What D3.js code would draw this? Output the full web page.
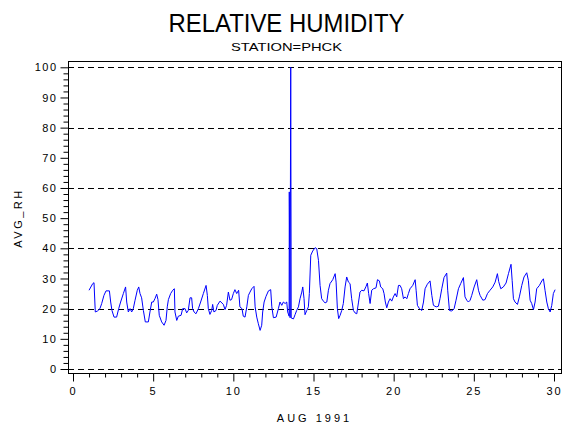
<!DOCTYPE html>
<html>
<head>
<meta charset="utf-8">
<script src="https://cdn.jsdelivr.net/npm/d3@7"></script>
<style>
  body { margin: 0; background: #fff; }
  text { font-family: "Liberation Sans", Arial, sans-serif; fill: #000; }
</style>
</head>
<body>
<div id="chart"></div>
<script>
////////////////////////////////////////////////////////////////////////
// Data: day of August 1991 and average RH

let days = [
  1.00, 1.23, 1.31, 1.39, 1.52, 1.68, 1.79, 1.93, 2.06, 2.27, 2.35, 2.43, 2.56, 2.72, 2.85, 2.97,
  3.14, 3.28, 3.35, 3.45, 3.56, 3.66, 3.76, 3.87, 4.01, 4.10, 4.18, 4.28, 4.39, 4.51, 4.70, 4.80,
  4.91, 5.01, 5.11, 5.22, 5.30, 5.38, 5.53, 5.68, 5.80, 5.88, 5.95, 6.09, 6.22, 6.32, 6.36, 6.47,
  6.57, 6.74, 6.84, 6.99, 7.09, 7.19, 7.30, 7.40, 7.46, 7.55, 7.67, 7.82, 7.96, 8.13, 8.30, 8.38,
  8.44, 8.54, 8.65, 8.71, 8.79, 8.92, 9.00, 9.17, 9.38, 9.48, 9.58, 9.69, 9.79, 9.89, 10.00, 10.10,
  10.21, 10.33, 10.41, 10.54, 10.62, 10.73, 10.84, 10.94, 11.04, 11.15, 11.29, 11.36, 11.46, 11.56,
  11.67, 11.77, 11.83, 11.92, 12.04, 12.19, 12.33, 12.40, 12.50, 12.67, 12.81, 12.91, 13.02, 13.12,
  13.23, 13.33, 13.39, 13.48, 13.49, 13.54, 13.58, 13.61, 13.75, 13.85, 13.95, 14.06, 14.16, 14.27,
  14.33, 14.41, 14.47, 14.58, 14.68, 14.74, 14.83, 14.95, 15.10, 15.20, 15.31, 15.41, 15.51, 15.62,
  15.72, 15.83, 15.93, 16.03, 16.20, 16.35, 16.41, 16.49, 16.57, 16.66, 16.76, 16.86, 16.97, 17.07,
  17.18, 17.28, 17.38, 17.49, 17.59, 17.70, 17.80, 17.90, 18.01, 18.15, 18.28, 18.36, 18.44, 18.53,
  18.63, 18.74, 18.90, 18.99, 19.11, 19.19, 19.32, 19.40, 19.48, 19.57, 19.67, 19.78, 19.88, 19.98,
  20.09, 20.19, 20.30, 20.40, 20.50, 20.61, 20.71, 20.82, 20.92, 21.02, 21.19, 21.34, 21.40, 21.48,
  21.61, 21.75, 21.86, 21.96, 22.10, 22.27, 22.38, 22.48, 22.65, 22.79, 22.89, 23.00, 23.14, 23.31,
  23.37, 23.48, 23.62, 23.77, 23.89, 24.04, 24.18, 24.35, 24.45, 24.56, 24.66, 24.77, 24.87, 25.02,
  25.18, 25.29, 25.39, 25.56, 25.70, 25.85, 26.01, 26.18, 26.33, 26.47, 26.55, 26.68, 26.84, 27.01,
  27.16, 27.32, 27.39, 27.47, 27.57, 27.72, 27.84, 27.99, 28.13, 28.30, 28.40, 28.51, 28.61, 28.72,
  28.82, 28.92, 29.09, 29.24, 29.34, 29.44, 29.55, 29.65, 29.76, 29.86, 29.96, 30.07
];

let avgRH = [
  26.1, 28.3, 28.6, 18.9, 19.2, 20.0, 21.7, 24.4, 25.9, 25.9, 22.2, 19.4, 17.2, 17.2, 20.0, 22.2,
  25.0, 27.2, 22.2, 18.9, 20.0, 18.9, 20.0, 22.8, 26.1, 27.2, 25.0, 23.6, 19.4, 15.6, 15.6, 18.9,
  22.2, 22.2, 23.3, 24.8, 23.0, 17.8, 15.6, 14.5, 16.1, 20.6, 23.0, 25.0, 26.1, 26.6, 18.9, 16.1,
  17.5, 17.8, 20.0, 20.0, 18.6, 19.4, 23.6, 23.6, 20.0, 18.9, 18.3, 20.0, 22.2, 25.0, 27.7, 24.4,
  20.0, 18.1, 19.4, 21.4, 18.9, 19.4, 21.1, 22.5, 21.4, 19.7, 21.1, 25.5, 22.8, 23.0, 25.0, 26.3,
  25.0, 26.1, 20.6, 20.0, 17.5, 17.2, 20.6, 24.4, 25.5, 26.6, 27.4, 20.6, 17.2, 15.0,
  12.8, 14.5, 18.9, 22.2, 24.1, 25.9, 26.3, 20.6, 17.0, 17.2, 20.0, 22.2, 21.1, 22.2,
  21.7, 22.2, 18.9, 17.5, 58.7, 17.0, 100.0, 16.9, 16.6, 18.0, 19.4, 20.6, 23.3, 25.5,
  27.2, 23.3, 18.0, 19.4, 20.6, 25.0, 37.7, 39.1, 40.2, 39.9, 36.0, 27.7, 23.3, 22.5,
  21.9, 22.2, 26.1, 28.3, 29.6, 31.6, 28.8, 20.0, 16.7, 17.8, 19.4, 21.7, 27.2, 30.5,
  28.8, 28.3, 23.3, 19.4, 18.6, 18.3, 21.9, 25.5, 26.1, 25.9, 27.4, 28.5, 25.0, 21.7,
  26.1, 26.6, 26.9, 29.6, 29.2, 27.2, 26.6, 25.0, 22.2, 20.3, 22.2, 23.3, 22.5, 23.9,
  25.0, 23.9, 27.7, 27.7, 26.6, 23.3, 23.9, 23.3, 25.0, 26.6, 27.7, 29.6, 26.1, 21.1,
  20.0, 19.4, 22.2, 26.6, 28.1, 29.2, 24.4, 21.1, 20.6, 20.8, 23.3, 26.6, 30.3, 31.8,
  26.1, 19.4, 19.2, 20.0, 22.8, 26.6, 28.3, 30.3, 23.9, 22.8, 22.2, 22.8, 24.4, 27.2,
  29.6, 26.1, 24.4, 22.8, 23.0, 25.0, 26.1, 27.2, 28.8, 31.6, 29.0, 26.6, 27.2, 28.5,
  31.6, 34.7, 29.4, 23.3, 22.2, 21.4, 23.9, 27.7, 30.5, 31.9, 29.4, 22.8, 21.7, 19.7,
  22.2, 26.6, 27.7, 29.2, 29.9, 26.1, 22.2, 20.0, 18.9, 21.1, 25.0, 26.3
];

// axis ticks
let xTicks = [0, 5, 10, 15, 20, 25, 30];
let yTicks = [0, 10, 20, 30, 40, 50, 60, 70, 80, 90, 100];
let gridValues = [0, 20, 40, 60, 80, 100];

let titleText = "RELATIVE HUMIDITY";
let subtitleText = "STATION=PHCK";
let xTitle = "AUG 1991";
let yTitle = "AVG_RH";

////////////////////////////////////////////////////////////////////////
// Layout

let width = 570, height = 430;
let frame = { left: 68, top: 61, right: 561, bottom: 373 };

let svg = d3.select("#chart")
  .append("svg")
  .attr("width", width)
  .attr("height", height);

let xScale = d3.scaleLinear().domain([0, 30]).range([73, 554]);
let yScale = d3.scaleLinear().domain([0, 100]).range([369, 67.3]);

// Titles
svg.append("text")
  .attr("x", 286.5).attr("y", 32)
  .attr("text-anchor", "middle")
  .attr("font-size", 26)
  .attr("textLength", 236)
  .attr("lengthAdjust", "spacingAndGlyphs")
  .text(titleText);

svg.append("text")
  .attr("x", 286.5).attr("y", 51)
  .attr("text-anchor", "middle")
  .attr("font-size", 11)
  .attr("textLength", 111)
  .attr("lengthAdjust", "spacingAndGlyphs")
  .text(subtitleText);

// Dashed reference lines
svg.append("g")
  .selectAll("line")
  .data(gridValues)
  .join("line")
  .attr("x1", frame.left)
  .attr("x2", frame.right)
  .attr("y1", d => Math.round(yScale(d)) + 0.5)
  .attr("y2", d => Math.round(yScale(d)) + 0.5)
  .attr("stroke", "#000")
  .attr("stroke-dasharray", "6,4");

// Frame
svg.append("rect")
  .attr("x", frame.left + 0.5)
  .attr("y", frame.top + 0.5)
  .attr("width", frame.right - frame.left)
  .attr("height", frame.bottom - frame.top)
  .attr("fill", "none")
  .attr("stroke", "#000");

// Y axis: major + minor ticks
let yAxis = svg.append("g")
  .attr("transform", `translate(${frame.left + 0.5},0)`)
  .call(d3.axisLeft(yScale).tickValues(yTicks).tickSize(8).tickPadding(3).tickSizeOuter(0));
yAxis.select(".domain").remove();
yAxis.selectAll("text")
  .attr("font-size", 11)
  .attr("font-family", "Liberation Sans, Arial, sans-serif")
  .attr("letter-spacing", 1.5);

let yMinor = d3.range(0, 101, 2).filter(v => v % 10 != 0);
let yAxisMinor = svg.append("g")
  .attr("transform", `translate(${frame.left + 0.5},0)`)
  .call(d3.axisLeft(yScale).tickValues(yMinor).tickSize(5).tickFormat("").tickSizeOuter(0));
yAxisMinor.select(".domain").remove();

// X axis: major + minor ticks
let xAxis = svg.append("g")
  .attr("transform", `translate(0,${frame.bottom + 0.5})`)
  .call(d3.axisBottom(xScale).tickValues(xTicks).tickSize(8).tickPadding(6).tickSizeOuter(0));
xAxis.select(".domain").remove();
xAxis.selectAll("text")
  .attr("font-size", 11)
  .attr("font-family", "Liberation Sans, Arial, sans-serif")
  .attr("letter-spacing", 2);

let xMinor = d3.range(0, 31).filter(v => v % 5 != 0);
let xAxisMinor = svg.append("g")
  .attr("transform", `translate(0,${frame.bottom + 0.5})`)
  .call(d3.axisBottom(xScale).tickValues(xMinor).tickSize(4).tickFormat("").tickSizeOuter(0));
xAxisMinor.select(".domain").remove();

// Axis titles
svg.append("text")
  .attr("x", (frame.left + frame.right) / 2)
  .attr("y", 422)
  .attr("text-anchor", "middle")
  .attr("font-size", 11)
  .attr("letter-spacing", 3)
  .text(xTitle);

svg.append("text")
  .attr("transform", "translate(22,218) rotate(-90)")
  .attr("text-anchor", "middle")
  .attr("font-size", 11)
  .attr("letter-spacing", 2.5)
  .text(yTitle);

// RH series
let series = days.map((d, i) => [d, avgRH[i]]);

svg.append("path")
  .datum(series)
  .attr("fill", "none")
  .attr("stroke", "#0000ff")
  .attr("stroke-width", 1)
  .attr("d", d3.line()
    .x(d => xScale(d[0]))
    .y(d => yScale(d[1])));
</script>
</body>
</html>
